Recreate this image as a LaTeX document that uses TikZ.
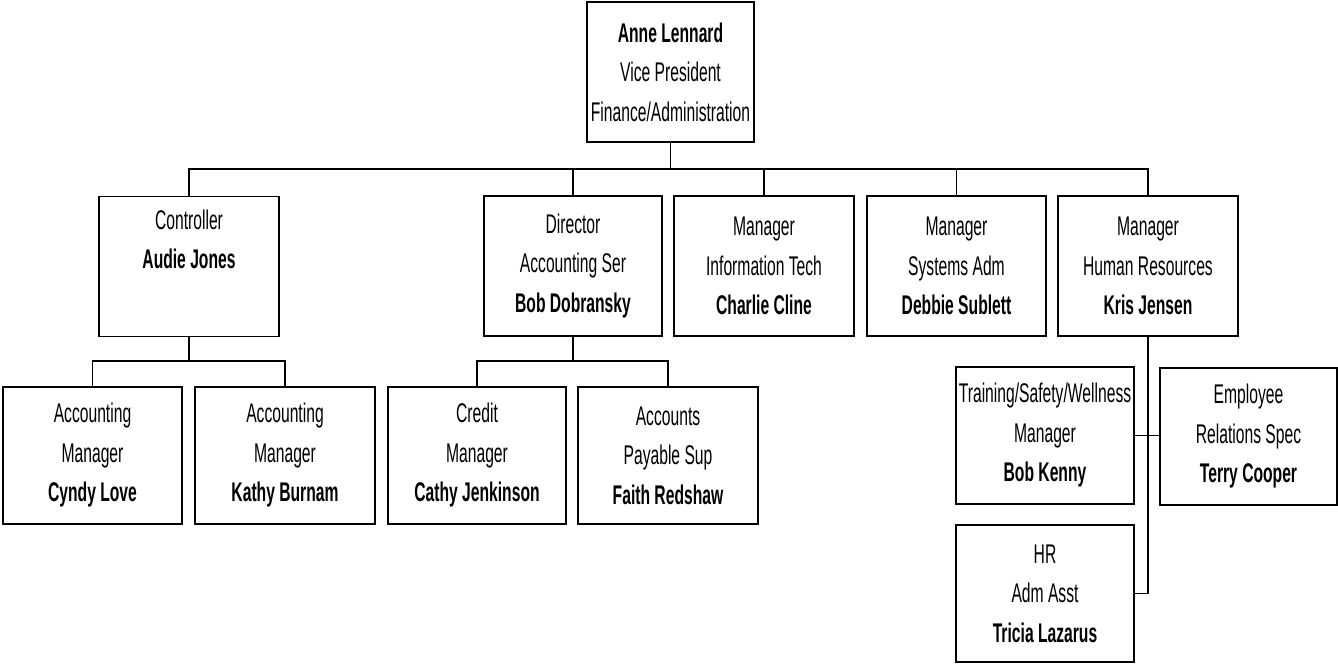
\documentclass[tikz,border=0pt]{standalone}
\usepackage{fontspec}
\setmainfont[FakeStretch=0.58]{Liberation Sans}
\begin{document}
\begin{tikzpicture}[x=1pt,y=-1pt,
  box/.style={draw=black,line width=1.1pt,rectangle,inner sep=0pt,align=center,
    font=\fontsize{27}{39.5}\selectfont},
  conn/.style={draw=black,line width=1.6pt}]
\useasboundingbox (0,0) rectangle (1338,664);
% top
\node[box,minimum width=167pt,minimum height=140pt] (vp) at (670.5,72) {\textbf{Anne Lennard}\\Vice President\\Finance/Administration};
% second row
\node[box,minimum width=180pt,minimum height=140pt,anchor=north] (ctrl) at (189,196) {};
\node[box,draw=none,anchor=north] at ([yshift=-13pt]ctrl.north) {Controller\\\textbf{Audie Jones}};
\node[box,minimum width=178pt,minimum height=140pt] (dir) at (573,266) {Director\\Accounting Ser\\\textbf{Bob Dobransky}};
\node[box,minimum width=180pt,minimum height=140pt] (it) at (764,266) {Manager\\Information Tech\\\textbf{Charlie Cline}};
\node[box,minimum width=179pt,minimum height=140pt] (sys) at (956.5,266) {Manager\\Systems Adm\\\textbf{Debbie Sublett}};
\node[box,minimum width=180pt,minimum height=140pt] (hr) at (1148,266) {Manager\\Human Resources\\\textbf{Kris Jensen}};
% bottom row
\node[box,minimum width=179pt,minimum height=137pt] (cyndy) at (92.5,455.5) {Accounting\\Manager\\\textbf{Cyndy Love}};
\node[box,minimum width=180pt,minimum height=137pt] (kathy) at (285,455.5) {Accounting\\Manager\\\textbf{Kathy Burnam}};
\node[box,minimum width=178pt,minimum height=137pt] (credit) at (477,455.5) {Credit\\Manager\\\textbf{Cathy Jenkinson}};
\node[box,minimum width=180pt,minimum height=137pt] (faith) at (668,455.5) {Accounts\\Payable Sup\\\textbf{Faith Redshaw}};
% HR children
\node[box,minimum width=178pt,minimum height=137pt] (train) at (1045,435.5) {Training/Safety/Wellness\\Manager\\\textbf{Bob Kenny}};
\node[box,minimum width=177pt,minimum height=137pt] (emp) at (1248.5,436.5) {Employee\\Relations Spec\\\textbf{Terry Cooper}};
\node[box,minimum width=178pt,minimum height=137pt] (adm) at (1045,593.5) {HR\\Adm Asst\\\textbf{Tricia Lazarus}};
% connectors
\coordinate (bus) at (670.5,169);
\draw[conn] (vp.south) -- (bus);
\draw[conn] (ctrl.north) |- (bus) -| (hr.north);
\draw[conn] (dir.north) -- (dir.north |- bus);
\draw[conn] (it.north) -- (it.north |- bus);
\draw[conn] (sys.north) -- (sys.north |- bus);
\coordinate (cb) at (189,361);
\draw[conn] (ctrl.south) -- (cb);
\draw[conn] (cyndy.north) |- (cb) -| (kathy.north);
\coordinate (db) at (573,361);
\draw[conn] (dir.south) -- (db);
\draw[conn] (credit.north) |- (db) -| (faith.north);
\draw[conn] (hr.south) |- (adm.east);
\draw[conn] (train.east) -- (train.east -| emp.west);
\end{tikzpicture}
\end{document}
